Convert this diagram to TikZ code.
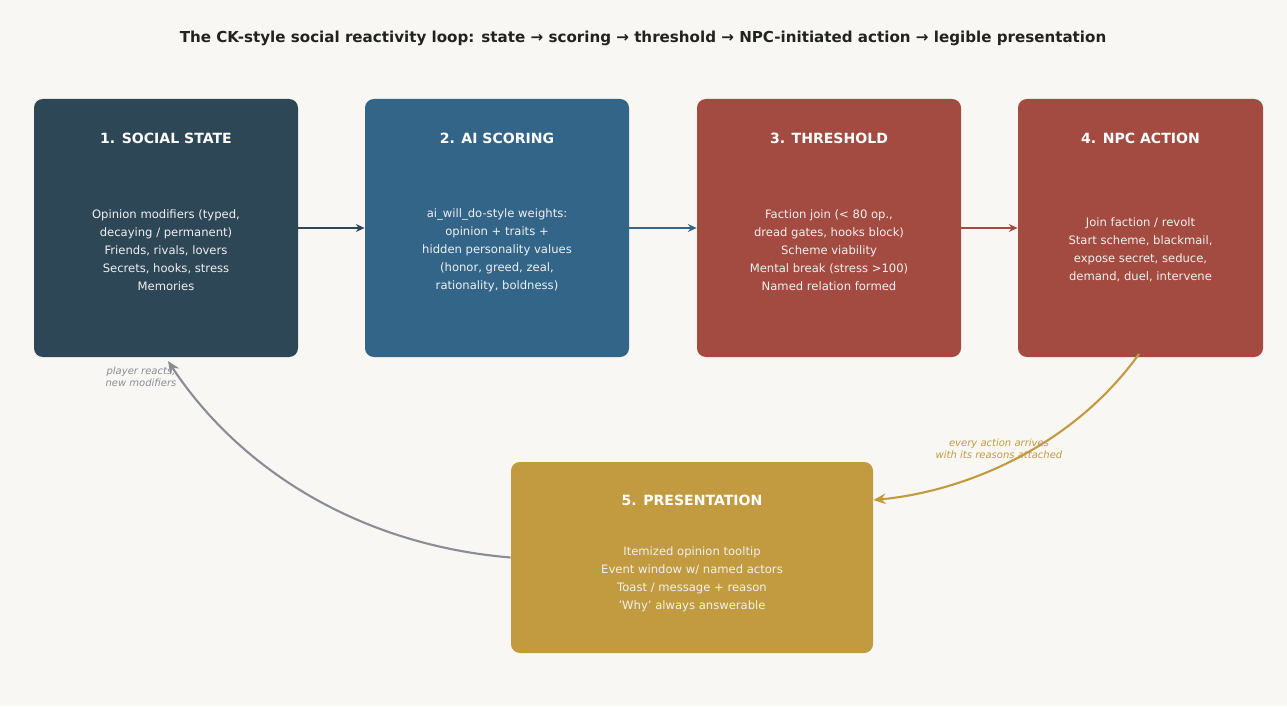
\documentclass[tikz,border=0pt]{standalone}
\usepackage{fontspec}
\setmainfont{DejaVu Sans}
\usetikzlibrary{positioning, arrows.meta}
\definecolor{ckBack}{HTML}{F8F7F4}
\definecolor{ckSlate}{HTML}{2E4756}
\definecolor{ckBlue}{HTML}{336589}
\definecolor{ckRust}{HTML}{A34B40}
\definecolor{ckGold}{HTML}{C29B40}
\definecolor{ckGray}{HTML}{8A8D94}
\definecolor{ckInk}{HTML}{222222}
\tikzset{
    stage/.style={
        rectangle,
        rounded corners=5pt,
        draw=none,
        minimum height=258*0.02cm,
        minimum width=264*0.02cm
    },
    heading/.style={
        font=\bfseries\fontsize{8}{10}\selectfont,
        text=white
    },
    body/.style={
        font=\fontsize{6.6}{10.2}\selectfont,
        text=white!94!black,
        align=center
    },
    flowstep/.style={
        -{Stealth[length=5pt, width=4.5pt]},
        line width=1.4pt
    },
    backflow/.style={
        -{Stealth[length=7pt, width=6pt]},
        line width=1.2pt
    },
    note/.style={
        font=\itshape\fontsize{5.7}{6.8}\selectfont,
        align=center
    }
}
\begin{document}
\begin{tikzpicture}[x=0.02cm, y=-0.02cm]
  % Canvas
  \fill[ckBack] (0,0) rectangle (1287,706);
  \useasboundingbox (0,0) rectangle (1287,706);

  \node[font=\bfseries\fontsize{8.6}{10}\selectfont, text=ckInk] (title) at (643,38)
      {The CK-style social reactivity loop: state → scoring → threshold → NPC-initiated action → legible presentation};

  % Stages
  \node[stage, fill=ckSlate] (state) at (166,228) {};
  \node[stage, fill=ckBlue] (scoring) at (497,228) {};
  \node[stage, fill=ckRust] (threshold) at (829,228) {};
  \node[stage, fill=ckRust, minimum width=245*0.02cm] (action) at (1140.5,228) {};
  \node[stage, fill=ckGold, minimum width=362*0.02cm, minimum height=191*0.02cm] (present) at (692,557.5) {};

  \node[heading] (stateT) at (166,138) {1. SOCIAL STATE};
  \node[heading] (scoringT) at (497,138) {2. AI SCORING};
  \node[heading] (thresholdT) at (829,138) {3. THRESHOLD};
  \node[heading] (actionT) at (1140.5,138) {4. NPC ACTION};
  \node[heading] (presentT) at (692,500) {5. PRESENTATION};

  \node[body] (stateB) at (166,250) {Opinion modifiers (typed,\\decaying / permanent)\\Friends, rivals, lovers\\Secrets, hooks, stress\\Memories};
  \node[body] (scoringB) at (497,250) {ai\_will\_do-style weights:\\opinion + traits +\\hidden personality values\\(honor, greed, zeal,\\rationality, boldness)};
  \node[body] (thresholdB) at (829,250) {Faction join (< 80 op.,\\dread gates, hooks block)\\Scheme viability\\Mental break (stress >100)\\Named relation formed};
  \node[body] (actionB) at (1140.5,250) {Join faction / revolt\\Start scheme, blackmail,\\expose secret, seduce,\\demand, duel, intervene};
  \node[body] (presentB) at (692,579) {Itemized opinion tooltip\\Event window w/ named actors\\Toast / message + reason\\'Why' always answerable};

  % Notes
  \node[note, text=ckGray] (reactN) at (141,377) {player reacts,\\new modifiers};
  \node[note, text=ckGold] (reasonN) at (999,449) {every action arrives\\with its reasons attached};

  % Flow
  \draw[flowstep, ckSlate] (state) -- (scoring);
  \draw[flowstep, ckBlue] (scoring) -- (threshold);
  \draw[flowstep, ckRust] (threshold) -- (action);
  \coordinate (actionFoot) at (1139,354);
  \coordinate (stateFoot) at (168,361);
  \draw[backflow, ckGold] (actionFoot) .. controls (1070,450) and (960,492) .. (present.east |- presentT);
  \draw[backflow, ckGray] (present.west) .. controls (360,545) and (240,470) .. (stateFoot);
\end{tikzpicture}
\end{document}
